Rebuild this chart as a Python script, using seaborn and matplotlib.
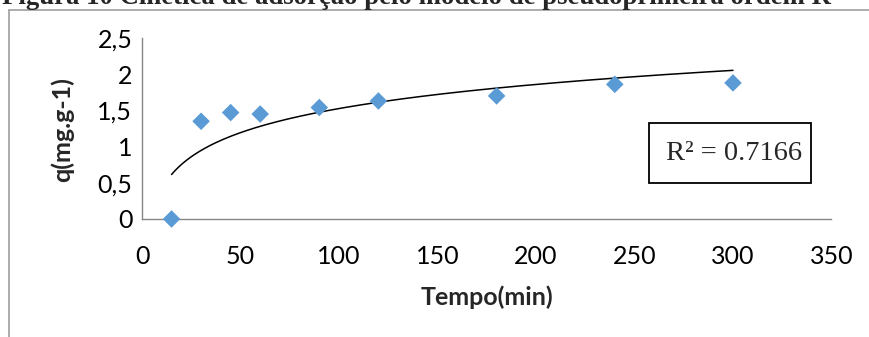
import numpy as np
import pandas as pd
import seaborn as sns
import matplotlib
matplotlib.use("Agg")
import matplotlib.pyplot as plt
from matplotlib.patches import Rectangle
from matplotlib.lines import Line2D

# ---- data ----
tempo = [15, 30, 45, 60, 90, 120, 180, 240, 300]
q = [0.0, 1.35, 1.47, 1.45, 1.54, 1.63, 1.70, 1.86, 1.88]
x_ticks = [0, 50, 100, 150, 200, 250, 300, 350]
y_ticks = [0, 0.5, 1, 1.5, 2, 2.5]
y_tick_labels = ["0", "0,5", "1", "1,5", "2", "2,5"]
title = "Figura 10 Cinética de adsorção pelo modelo de pseudoprimeira ordem R"
r2_text = "R² = 0.7166"
x_label = "Tempo(min)"
y_label = "q(mg.g-1)"

sns.set_theme(style="white")
plt.rcParams['font.family'] = ['Lato', 'DejaVu Sans']

W, H = 870, 337
fig = plt.figure(figsize=(W / 100, H / 100), dpi=100)
ax = fig.add_axes([142 / W, 1 - 219 / H, (831.5 - 142) / W, (219 - 38) / H])

df = pd.DataFrame({"t": tempo, "q": q})

# logarithmic trendline (least squares on ln x)
a, b = np.polyfit(np.log(df["t"]), df["q"], 1)
xs = np.linspace(min(tempo), max(tempo), 300)
trend = pd.DataFrame({"t": xs, "q": a * np.log(xs) + b})
sns.lineplot(data=trend, x="t", y="q", ax=ax, color="black", linewidth=1.1, zorder=2)

sns.scatterplot(data=df, x="t", y="q", ax=ax, marker="D", s=80, color="#5B9BD5",
                edgecolor="none", zorder=3, clip_on=False)

ax.set_xlim(0, 350)
ax.set_ylim(0, 2.5)
ax.set_xticks(x_ticks)
ax.set_xticklabels([str(v) for v in x_ticks])
ax.set_yticks(y_ticks)
ax.set_yticklabels(y_tick_labels)
ax.tick_params(axis="both", length=0, labelsize=18, colors="black")
ax.tick_params(axis="x", pad=19)
ax.tick_params(axis="y", pad=7)
for s in ["top", "right"]:
    ax.spines[s].set_visible(False)
for s in ["left", "bottom"]:
    ax.spines[s].set_color("#868686")
    ax.spines[s].set_linewidth(1.0)
ax.set_xlabel("")
ax.set_ylabel("")
ax.grid(False)

fig.text(487 / W, 1 - 297 / H, x_label, ha="center", va="center",
         fontsize=18, fontweight="bold")
fig.text(62 / W, 1 - 130 / H, y_label, ha="center", va="center",
         fontsize=18, fontweight="bold", rotation=90)

# R² box
fig.add_artist(Rectangle((649 / W, 1 - 183 / H), (811 - 649) / W, (183 - 123) / H,
                         transform=fig.transFigure, fill=False, edgecolor="black",
                         linewidth=1.3))
fig.text(734 / W, 1 - 153 / H, r2_text, ha="center", va="center",
         fontsize=20.5, family=["Liberation Serif", "DejaVu Serif"])

# outer chart frame (partly cropped)
fig.add_artist(Line2D([9 / W, 9 / W], [0, 1 - 10 / H], transform=fig.transFigure,
                      color="#A6A6A6", linewidth=1.3))
fig.add_artist(Line2D([9 / W, 1], [1 - 10 / H, 1 - 10 / H], transform=fig.transFigure,
                      color="#A6A6A6", linewidth=1.3))

# cropped caption on top (the reference shows only its lower part)
fig.text(2 / W, 1 - 4 / H, title, ha="left", va="baseline", fontsize=19.3,
         fontweight="bold", family=["Liberation Serif", "DejaVu Serif"])

fig.savefig("out.png", dpi=100)
